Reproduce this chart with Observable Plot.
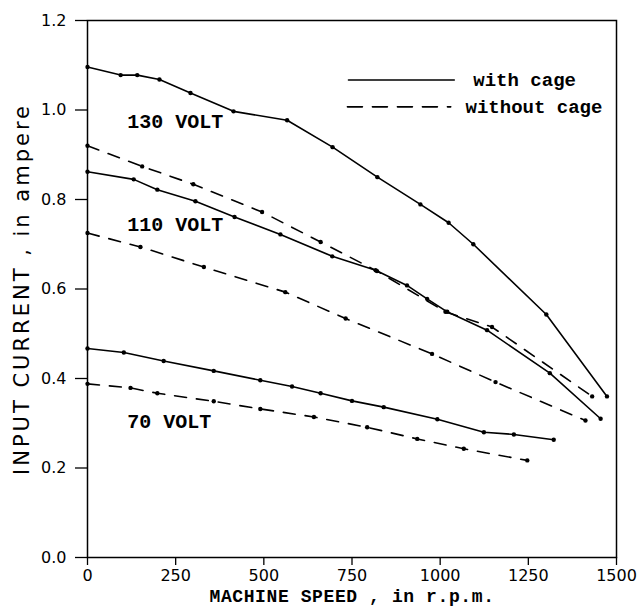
<!DOCTYPE html>
<html>
<head>
<meta charset="utf-8">
<script src="https://cdn.jsdelivr.net/npm/d3@7"></script>
<script src="https://cdn.jsdelivr.net/npm/@observablehq/plot@0.6"></script>
<style>
  html, body { margin: 0; padding: 0; background: #fff; }
  #chart { width: 643px; height: 611px; }
</style>
</head>
<body>
<div id="chart"></div>
<script>
// ---- data ----
const xTicks = [0, 250, 500, 750, 1000, 1250, 1500];
const yTicks = [0, 0.2, 0.4, 0.6, 0.8, 1.0, 1.2];

const speed130Cage   = [0, 94, 141, 204, 292, 414, 566, 695, 822, 944, 1024, 1094, 1301, 1473];
const current130Cage = [1.096, 1.078, 1.078, 1.068, 1.038, 0.997, 0.977, 0.917, 0.850, 0.789, 0.748, 0.700, 0.543, 0.360];

const speed130NoCage   = [0, 155, 300, 495, 661, 821, 1015, 1147, 1431];
const current130NoCage = [0.920, 0.874, 0.834, 0.772, 0.705, 0.640, 0.549, 0.515, 0.360];

const speed110Cage   = [0, 131, 198, 306, 417, 547, 694, 817, 906, 963, 1020, 1133, 1311, 1455];
const current110Cage = [0.862, 0.845, 0.822, 0.796, 0.761, 0.722, 0.673, 0.642, 0.608, 0.578, 0.549, 0.508, 0.412, 0.310];

const speed110NoCage   = [0, 150, 330, 561, 732, 977, 1157, 1412];
const current110NoCage = [0.725, 0.694, 0.649, 0.593, 0.534, 0.455, 0.392, 0.306];

const speed70Cage   = [0, 103, 216, 358, 490, 580, 661, 750, 840, 992, 1124, 1209, 1322];
const current70Cage = [0.467, 0.458, 0.439, 0.417, 0.396, 0.382, 0.367, 0.350, 0.336, 0.309, 0.280, 0.275, 0.263];

const speed70NoCage   = [0, 122, 198, 358, 490, 642, 793, 935, 1067, 1247];
const current70NoCage = [0.388, 0.379, 0.367, 0.349, 0.332, 0.314, 0.291, 0.265, 0.243, 0.217];

const voltLabels = ["130 VOLT", "110 VOLT", "70 VOLT"];
const voltLabelSpeed = [113, 113, 113];
const voltLabelCurrent = [0.975, 0.745, 0.303];

const legendNames = ["with cage", "without cage"];
const legendLineSpeed = [[740, 1040], [737, 1030]];
const legendCurrent = [1.067, 1.007];
const legendTextSpeed = [1094, 1072];

const xLabel = "MACHINE SPEED , in r.p.m.";
const yLabel = "INPUT CURRENT , in ampere";

// ---- build tables ----
function rows(speeds, currents, id, cage) {
  return speeds.map((s, i) => ({speed: s, current: currents[i], id, cage}));
}
const series = [
  rows(speed130Cage, current130Cage, "130c", true),
  rows(speed130NoCage, current130NoCage, "130n", false),
  rows(speed110Cage, current110Cage, "110c", true),
  rows(speed110NoCage, current110NoCage, "110n", false),
  rows(speed70Cage, current70Cage, "70c", true),
  rows(speed70NoCage, current70NoCage, "70n", false)
];
const cageRows = series.filter(s => s[0].cage).flat();
const noCageRows = series.filter(s => !s[0].cage).flat();
const allRows = series.flat();

const voltRows = voltLabels.map((t, i) => ({t, speed: voltLabelSpeed[i], current: voltLabelCurrent[i]}));
const legendLine = i => legendLineSpeed[i].map(s => ({speed: s, current: legendCurrent[i]}));
const legendTexts = legendNames.map((n, i) => ({n, speed: legendTextSpeed[i], current: legendCurrent[i]}));

const monoFont = "'Liberation Mono', 'DejaVu Sans Mono', monospace";

const chart = Plot.plot({
  width: 643,
  height: 611,
  marginLeft: 87,
  marginRight: 27,
  marginTop: 20,
  marginBottom: 54,
  style: {fontFamily: "'DejaVu Sans', sans-serif", fontSize: "15px", color: "black", background: "white"},
  x: {domain: [0, 1500]},
  y: {domain: [0, 1.2]},
  marks: [
    Plot.frame({stroke: "black", strokeWidth: 1.5}),
    Plot.axisX({ticks: xTicks, tickFormat: d3.format("d"), tickSize: 8, tickPadding: 4, label: null, fontSize: 16, stroke: "black", strokeWidth: 1.3}),
    Plot.axisY({ticks: yTicks, tickFormat: d3.format(".1f"), tickSize: 12, tickPadding: 9, label: null, fontSize: 16, stroke: "black", strokeWidth: 1.3}),
    Plot.line(cageRows, {x: "speed", y: "current", z: "id", stroke: "black", strokeWidth: 1.6}),
    Plot.line(noCageRows, {x: "speed", y: "current", z: "id", stroke: "black", strokeWidth: 1.6, strokeDasharray: "12,10"}),
    Plot.dot(allRows, {x: "speed", y: "current", r: 2.2, fill: "black"}),
    Plot.text(voltRows, {x: "speed", y: "current", text: "t", textAnchor: "start", fontFamily: monoFont, fontSize: 20, fontWeight: "bold", fill: "black"}),
    Plot.line(legendLine(0), {x: "speed", y: "current", stroke: "black", strokeWidth: 1.6}),
    Plot.line(legendLine(1), {x: "speed", y: "current", stroke: "black", strokeWidth: 1.6, strokeDasharray: "15,10"}),
    Plot.text(legendTexts, {x: "speed", y: "current", text: "n", textAnchor: "start", fontFamily: monoFont, fontSize: 19, fontWeight: "bold", fill: "black"}),
    Plot.text([xLabel], {frameAnchor: "bottom", dy: 44, text: d => d, textAnchor: "middle", fontFamily: monoFont, fontSize: 18, fontWeight: "bold", fill: "black"}),
    Plot.text([yLabel], {frameAnchor: "left", dx: -65, rotate: -90, textAnchor: "middle", text: d => d, fontSize: 21, fill: "black"})
  ]
});
// letter spacing on the axis titles
d3.select(chart).selectAll("text").each(function () {
  const t = this.textContent;
  if (t === yLabel) this.setAttribute("letter-spacing", "3px");
  if (t === xLabel) this.setAttribute("letter-spacing", "0.6px");
});
document.getElementById("chart").appendChild(chart);
</script>
</body>
</html>
